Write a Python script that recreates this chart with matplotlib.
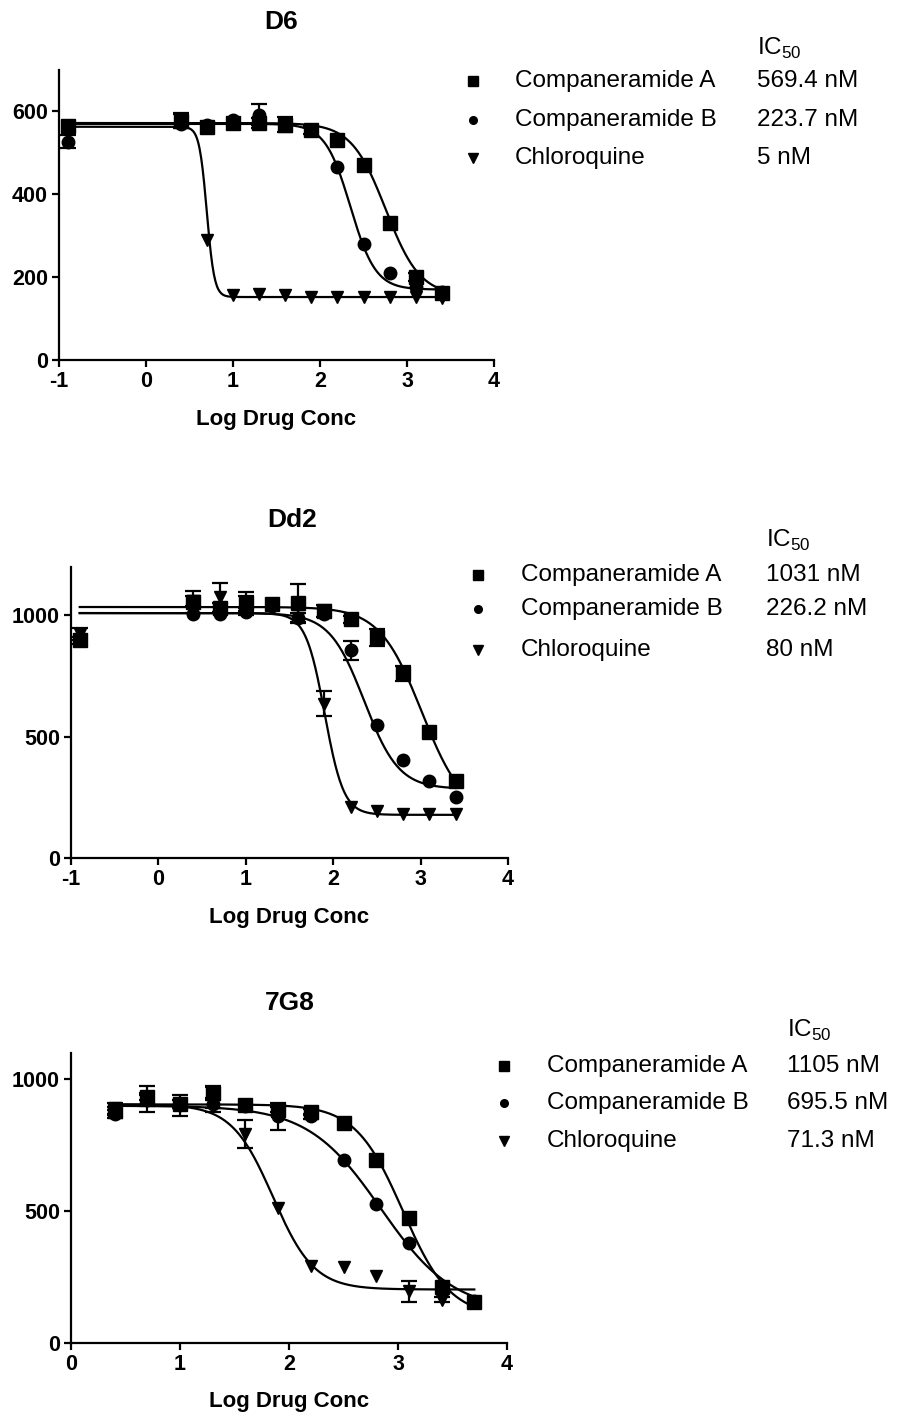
import numpy as np
import matplotlib
matplotlib.use("Agg")
import matplotlib.pyplot as plt

plt.rcParams['font.family'] = ['Liberation Sans', 'DejaVu Sans']
plt.rcParams['mathtext.fontset'] = 'custom'
plt.rcParams['mathtext.rm'] = 'Liberation Sans'
plt.rcParams['axes.unicode_minus'] = False

W, H = 899, 1418

compounds = ['Companeramide A', 'Companeramide B', 'Chloroquine']
markers = ['s', 'o', 'v']
marker_sizes = [9.5, 9, 9]

# ---- D6 ----
d6_x = [-0.9, 0.4, 0.7, 1.0, 1.3, 1.6, 1.9, 2.2, 2.5, 2.8, 3.1, 3.4]
d6_x_cq = [0.4, 0.7, 1.0, 1.3, 1.6, 1.9, 2.2, 2.5, 2.8, 3.1, 3.4]
d6_a = [565, 578, 562, 572, 572, 568, 556, 530, 470, 330, 200, 162]
d6_a_err = [0, 15, 0, 0, 12, 18, 10, 0, 0, 0, 10, 0]
d6_b = [527, 570, 568, 580, 592, 572, 555, 467, 280, 210, 176, 165]
d6_b_err = [15, 0, 0, 0, 25, 0, 0, 0, 0, 0, 0, 0]
d6_c = [578, 290, 158, 160, 158, 153, 152, 152, 152, 152, 150]
d6_c_err = [17, 0, 0, 0, 0, 0, 0, 0, 0, 0, 0]
d6_ic50 = [569.4, 223.7, 5]
d6_ic50_text = ['569.4 nM', '223.7 nM', '5 nM']
d6_top = [572, 570, 563]
d6_bottom = [155, 170, 152]
d6_hill = [2.2, 3.0, 10.0]

# ---- Dd2 ----
dd2_x = [-0.9, 0.4, 0.7, 1.0, 1.3, 1.6, 1.9, 2.2, 2.5, 2.8, 3.1, 3.4]
dd2_a = [897, 1055, 1030, 1050, 1049, 1050, 1018, 984, 910, 761, 518, 317]
dd2_a_err = [15, 45, 20, 45, 0, 78, 25, 15, 35, 30, 0, 0]
dd2_b = [900, 1008, 1008, 1015, 1040, 990, 1005, 856, 547, 406, 317, 251]
dd2_b_err = [0, 0, 0, 15, 0, 0, 0, 40, 0, 0, 0, 0]
dd2_c = [925, 1060, 1075, 1050, 1040, 990, 637, 210, 193, 181, 181, 181]
dd2_c_err = [25, 20, 60, 30, 0, 20, 50, 0, 0, 0, 0, 0]
dd2_ic50 = [1031, 226.2, 80]
dd2_ic50_text = ['1031 nM', '226.2 nM', '80 nM']
dd2_top = [1035, 1010, 1010]
dd2_bottom = [170, 285, 178]
dd2_hill = [1.8, 2.2, 4.0]

# ---- 7G8 ----
g8_x = [0.4, 0.7, 1.0, 1.3, 1.6, 1.9, 2.2, 2.5, 2.8, 3.1, 3.4, 3.7]
g8_x_cq = [0.4, 0.7, 1.0, 1.3, 1.6, 1.9, 2.2, 2.5, 2.8, 3.1, 3.4]
g8_a = [880, 935, 905, 950, 902, 885, 876, 836, 695, 474, 212, 155]
g8_a_err = [15, 15, 15, 20, 0, 10, 10, 0, 0, 0, 0, 0]
g8_b = [870, 920, 905, 905, 900, 860, 860, 695, 526, 381, 218, 160]
g8_b_err = [15, 20, 15, 15, 0, 52, 10, 0, 0, 0, 0, 0]
g8_c = [890, 925, 900, 925, 793, 513, 293, 289, 256, 197, 165]
g8_c_err = [20, 50, 40, 50, 53, 0, 0, 0, 0, 40, 10]
g8_ic50 = [1105, 695.5, 71.3]
g8_ic50_text = ['1105 nM', '695.5 nM', '71.3 nM']
g8_top = [905, 900, 905]
g8_bottom = [100, 120, 203]
g8_hill = [2.0, 1.3, 2.3]


def four_pl(x, top, bottom, log_ic50, hill):
    return bottom + (top - bottom) / (1 + 10 ** ((x - log_ic50) * hill))


def px_axes(fig, left, top, right, bottom):
    return fig.add_axes([left / W, 1 - bottom / H, (right - left) / W, (bottom - top) / H])


fig = plt.figure(figsize=(W / 100, H / 100), dpi=100)

panels = [
    dict(title='D6', box=(59, 70, 494, 360), xlim=(-1, 4), ylim=(0, 700),
         yticks=[0, 200, 400, 600], xticks=[-1, 0, 1, 2, 3, 4],
         xs=[d6_x, d6_x, d6_x_cq], ys=[d6_a, d6_b, d6_c], errs=[d6_a_err, d6_b_err, d6_c_err],
         ic50=d6_ic50, ic50_text=d6_ic50_text, top=d6_top, bottom=d6_bottom, hill=d6_hill,
         fit_range=(-0.9, 3.4), title_xy=(281, 22), xlabel_y=420,
         leg_marker_x=473, leg_name_x=515, leg_val_x=757, leg_ic_y=48, leg_rows=[81, 120, 158]),
    dict(title='Dd2', box=(71, 567, 508, 858), xlim=(-1, 4), ylim=(0, 1200),
         yticks=[0, 500, 1000], xticks=[-1, 0, 1, 2, 3, 4],
         xs=[dd2_x, dd2_x, dd2_x], ys=[dd2_a, dd2_b, dd2_c], errs=[dd2_a_err, dd2_b_err, dd2_c_err],
         ic50=dd2_ic50, ic50_text=dd2_ic50_text, top=dd2_top, bottom=dd2_bottom, hill=dd2_hill,
         fit_range=(-0.9, 3.4), title_xy=(292, 520), xlabel_y=918,
         leg_marker_x=478, leg_name_x=521, leg_val_x=766, leg_ic_y=540, leg_rows=[575, 609, 650]),
    dict(title='7G8', box=(71, 1053, 507, 1343), xlim=(0, 4), ylim=(0, 1100),
         yticks=[0, 500, 1000], xticks=[0, 1, 2, 3, 4],
         xs=[g8_x, g8_x, g8_x_cq], ys=[g8_a, g8_b, g8_c], errs=[g8_a_err, g8_b_err, g8_c_err],
         ic50=g8_ic50, ic50_text=g8_ic50_text, top=g8_top, bottom=g8_bottom, hill=g8_hill,
         fit_range=(0.4, 3.7), title_xy=(290, 1003), xlabel_y=1402,
         leg_marker_x=504, leg_name_x=547, leg_val_x=787, leg_ic_y=1030, leg_rows=[1066, 1103, 1141]),
]

# overlay in pixel coordinates for titles and the IC50 keys
overlay = fig.add_axes([0, 0, 1, 1], zorder=5)
overlay.set_xlim(0, W)
overlay.set_ylim(H, 0)
overlay.axis('off')
overlay.patch.set_alpha(0)

for p in panels:
    ax = px_axes(fig, *p['box'])
    for i in range(3):
        # zero error means the bar is hidden behind the symbol, so skip it
        err = np.array(p['errs'][i], dtype=float)
        err[err == 0] = np.nan
        ax.errorbar(p['xs'][i], p['ys'][i], yerr=err, fmt=markers[i],
                    color='black', markersize=marker_sizes[i], elinewidth=1.6,
                    capsize=6, capthick=1.6, clip_on=False, zorder=3)
        xf = np.linspace(p['fit_range'][0], p['fit_range'][1], 500)
        ax.plot(xf, four_pl(xf, p['top'][i], p['bottom'][i], np.log10(p['ic50'][i]), p['hill'][i]),
                color='black', lw=1.6, zorder=2)

    ax.set_xlim(*p['xlim'])
    ax.set_ylim(*p['ylim'])
    ax.set_xticks(p['xticks'])
    ax.set_yticks(p['yticks'])
    for side in ('top', 'right'):
        ax.spines[side].set_visible(False)
    for side in ('left', 'bottom'):
        ax.spines[side].set_linewidth(1.6)
    ax.tick_params(direction='out', length=5, width=1.6, labelsize=15.5, pad=3)
    for lab in ax.get_xticklabels() + ax.get_yticklabels():
        lab.set_fontweight('bold')
    ax.patch.set_alpha(0)

    overlay.text(p['title_xy'][0], p['title_xy'][1], p['title'], fontsize=19,
                 fontweight='bold', ha='center', va='center')
    cx = (p['box'][0] + p['box'][2]) / 2
    overlay.text(cx, p['xlabel_y'], 'Log Drug Conc', fontsize=16,
                 fontweight='bold', ha='center', va='center')

    overlay.text(p['leg_val_x'], p['leg_ic_y'], r'IC$_{\mathrm{50}}$', fontsize=17.5,
                 ha='left', va='center')
    for i in range(3):
        y = p['leg_rows'][i]
        overlay.plot(p['leg_marker_x'], y, marker=markers[i], color='black',
                     markersize=[7.5, 5.5, 6.5][i], linestyle='none')
        overlay.text(p['leg_name_x'], y, compounds[i], fontsize=17.5, ha='left', va='center')
        overlay.text(p['leg_val_x'], y, p['ic50_text'][i], fontsize=17.5, ha='left', va='center')

fig.savefig('out.png', dpi=100)
